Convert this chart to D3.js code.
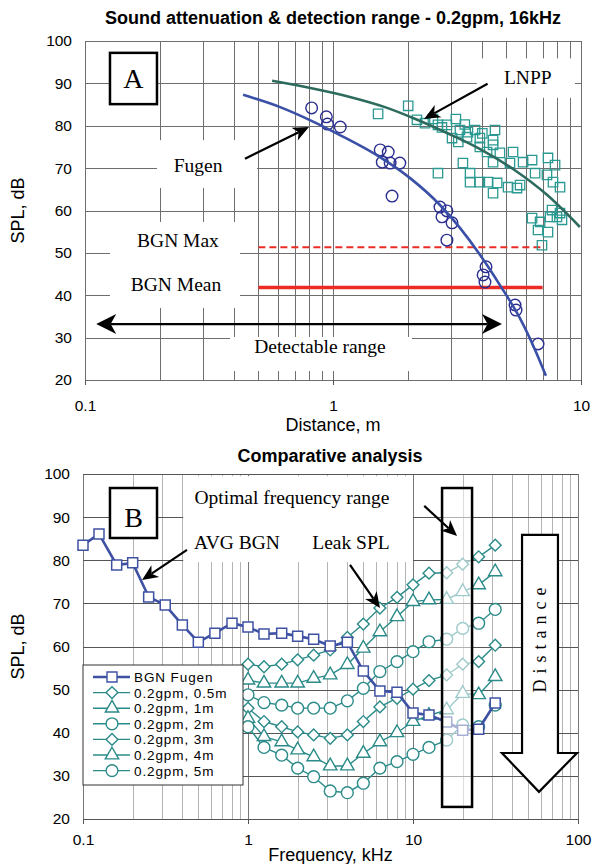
<!DOCTYPE html>
<html>
<head>
<meta charset="utf-8">
<script src="https://cdn.jsdelivr.net/npm/d3@7/dist/d3.min.js"></script>
<style>
  body { margin: 0; background: #fff; }
  svg { display: block; }
</style>
</head>
<body>
<div id="chart"></div>
<script>
// ---------- panel A : sound attenuation vs distance ----------
const fugenDist = [0.82, 0.94, 0.95, 1.07, 1.55, 1.67, 1.58, 1.70, 1.86, 1.73, 2.70,
                   2.88, 2.75, 3.02, 2.88, 4.14, 4.03, 4.10, 5.42, 5.47, 6.71];
const fugenSpl  = [84.2, 82.1, 80.4, 79.7, 74.3, 73.8, 71.4, 71.2, 71.2, 63.4, 60.8,
                   59.9, 58.5, 57.1, 53.0, 46.7, 44.8, 43.1, 37.7, 36.5, 28.5];
const fugenFitDist = [0.434, 0.612, 0.823, 1.067, 1.547, 2.04, 2.70, 3.25, 3.92, 4.71, 5.67, 6.53, 7.22];
const fugenFitSpl  = [87.3, 84.4, 81.1, 77.8, 72.6, 67.7, 61.3, 55.9, 49.5, 42.4, 34.6, 27.1, 21.0];

const lnppDist = [1.52, 2.01, 2.18, 2.35, 2.53, 2.65, 2.88, 3.13, 3.25, 3.50, 3.74, 4.50, 3.02,
                  3.47, 3.91, 4.42, 4.42, 3.91, 4.18, 4.71, 5.32, 5.84, 6.35, 7.36, 7.86, 5.17,
                  4.42, 3.34, 2.65, 3.57, 3.57, 3.91, 4.22, 4.59, 5.08, 5.68, 6.53, 7.29, 7.71,
                  8.23, 4.42, 5.52, 7.64, 8.00, 8.38, 6.35, 6.84, 7.36, 6.71, 6.96, 8.23, 7.50,
                  2.75, 3.40, 4.00, 3.20];
const lnppSpl  = [82.8, 84.7, 81.4, 80.6, 81.6, 80.2, 80.2, 81.6, 79.0, 78.5, 79.0, 79.0, 77.1,
                  77.3, 77.1, 76.6, 75.5, 75.0, 73.8, 73.6, 73.8, 71.4, 71.9, 72.4, 70.7, 71.2,
                  71.4, 71.2, 68.8, 68.8, 66.7, 66.7, 66.7, 66.5, 65.5, 66.0, 68.8, 68.4, 66.7,
                  65.5, 64.1, 65.3, 60.1, 58.5, 57.8, 58.2, 57.3, 54.9, 55.4, 51.8, 59.4, 58.5,
                  79.6, 80.3, 78.2, 76.2];
const lnppFitDist = [0.568, 0.81, 1.17, 1.62, 2.15, 2.88, 3.92, 5.32, 7.29, 9.9];
const lnppFitSpl  = [90.6, 88.9, 86.8, 84.4, 81.6, 78.3, 74.5, 69.8, 63.7, 56.1];

const bgnRange = [0.5, 7];
const bgnMaxLevel = 51.3;
const bgnMeanLevel = 41.8;
const detectRange = [0.111, 4.8];
const detectLevel = 33.2;

// ---------- panel B : spectra ----------
const bands = [0.1, 0.125, 0.16, 0.2, 0.25, 0.315, 0.4, 0.5, 0.63, 0.8, 1, 1.25, 1.6, 2, 2.5,
               3.15, 4, 5, 6.3, 8, 10, 12.5, 16, 20, 25, 31.5];
const bgnFugen = [83.5, 86.1, 78.9, 79.4, 71.5, 69.6, 65.0, 61.0, 63.1, 65.4, 64.5, 62.9, 63.1,
                  62.4, 61.7, 60.1, 61.0, 54.3, 49.7, 49.4, 44.6, 44.1, 42.5, 40.6, 40.8, 46.9];
const leakBands = [1, 1.25, 1.6, 2, 2.5, 3.15, 4, 5, 6.3, 8, 10, 12.5, 16, 20, 25, 31.5];
const leak05m = [55.9, 55.3, 55.9, 56.9, 58.0, 59.2, 62.1, 65.2, 68.9, 71.4, 74.3, 77.0, 77.1, 79.1, 80.8, 83.5];
const leak1m  = [52.2, 51.5, 51.5, 51.5, 52.6, 53.4, 55.8, 59.6, 63.4, 66.9, 70.4, 70.8, 70.9, 72.7, 74.3, 77.3];
const leak2m  = [48.8, 47.0, 46.4, 45.7, 45.7, 45.7, 47.4, 50.3, 54.2, 56.5, 58.8, 61.1, 61.7, 64.2, 65.4, 68.6];
const leak3m  = [45.7, 42.6, 41.4, 40.2, 39.5, 38.7, 39.5, 42.6, 46.0, 48.0, 50.1, 52.1, 53.4, 55.9, 56.5, 60.3];
const leak4m  = [43.3, 39.1, 37.9, 36.0, 34.4, 32.3, 32.3, 35.2, 37.9, 40.0, 42.6, 44.0, 45.3, 49.1, 48.8, 53.0];
const leak5m  = [41.4, 36.6, 34.8, 31.8, 29.8, 26.5, 26.1, 28.3, 31.8, 33.3, 35.0, 36.6, 38.3, 41.8, 41.4, 46.4];
const legendNames = ["BGN Fugen", "0.2gpm, 0.5m", "0.2gpm, 1m", "0.2gpm, 2m", "0.2gpm, 3m", "0.2gpm, 4m", "0.2gpm, 5m"];
const optimalBand = [15, 22.8];

const SANS  = "'Liberation Sans', Arial, sans-serif";
const SERIF = "'Liberation Serif', 'Times New Roman', serif";
const TEAL = "#2b8b89";
const BLUE = "#3f51a3";

const svg = d3.select("#chart").append("svg")
    .attr("width", 601)
    .attr("height", 864);

////////////
/// Util ///
////////////

function logSteps(lo, hi) {
    const v = [];
    for (let d = lo; d < hi * 0.99; d *= 10) {
        for (let k = 1; k < 10; k++) v.push(+(d * k).toPrecision(6));
    }
    v.push(hi);
    return v;
}

function isDecade(d) {
    const l = Math.log10(d);
    return Math.abs(l - Math.round(l)) < 1e-6;
}

function drawGrid(g, x, y, minorCol, majorCol, horizCol) {
    const [x0, x1] = x.range();
    const [y0, y1] = y.range();
    g.selectAll(null).data(logSteps(x.domain()[0], x.domain()[1])).join("line")
        .attr("x1", d => Math.round(x(d)) + 0.5).attr("x2", d => Math.round(x(d)) + 0.5)
        .attr("y1", y1).attr("y2", y0)
        .attr("stroke", d => isDecade(d) ? majorCol : minorCol)
        .attr("stroke-width", 1);
    g.selectAll(null).data(d3.range(20, 101, 10)).join("line")
        .attr("x1", x0).attr("x2", x1)
        .attr("y1", d => Math.round(y(d)) + 0.5).attr("y2", d => Math.round(y(d)) + 0.5)
        .attr("stroke", horizCol)
        .attr("stroke-width", 1);
}

function drawAxes(g, x, y, labelY, title, titleY, yTitleX) {
    const decades = logSteps(x.domain()[0], x.domain()[1]).filter(isDecade);
    const ax = g.append("g")
        .attr("transform", "translate(0," + y.range()[0] + ")")
        .call(d3.axisBottom(x).tickValues(decades).tickFormat(d3.format("~g")).tickSize(5));
    ax.select(".domain").remove();
    ax.selectAll("line").attr("stroke", "#555");
    ax.selectAll("text").attr("y", labelY).attr("dy", 0);
    ax.attr("font-family", SANS).attr("font-size", 15.5);

    const ay = g.append("g")
        .attr("transform", "translate(" + x.range()[0] + ",0)")
        .call(d3.axisLeft(y).tickValues(d3.range(20, 101, 10)).tickSize(0).tickPadding(13));
    ay.select(".domain").remove();
    ay.attr("font-family", SANS).attr("font-size", 15.5);

    const cx = (x.range()[0] + x.range()[1]) / 2;
    g.append("text")
        .attr("x", cx).attr("y", titleY)
        .attr("text-anchor", "middle")
        .attr("font-family", SANS).attr("font-size", 18)
        .text(title);
    const cy = (y.range()[0] + y.range()[1]) / 2;
    g.append("text")
        .attr("transform", "translate(" + yTitleX + "," + cy + ") rotate(-90)")
        .attr("text-anchor", "middle")
        .attr("font-family", SANS).attr("font-size", 18)
        .text("SPL, dB");
}

function whiteBox(g, x, y, d0, d1, v0, v1) {
    g.append("rect")
        .attr("x", x(d0)).attr("y", y(v0))
        .attr("width", x(d1) - x(d0)).attr("height", y(v1) - y(v0))
        .attr("fill", "#fff");
}

function label(g, x, y, d, v, txt, size) {
    g.append("text")
        .attr("x", x(d)).attr("y", y(v))
        .attr("text-anchor", "middle")
        .attr("font-family", SERIF).attr("font-size", size || 19.5)
        .text(txt);
}

function head(g, xs, ys, xt, yt, len, half) {
    const a = Math.atan2(yt - ys, xt - xs);
    const ux = Math.cos(a), uy = Math.sin(a);
    const bx = xt - ux * len, by = yt - uy * len;
    const nx = xt - ux * len * 0.72, ny = yt - uy * len * 0.72;
    g.append("path")
        .attr("d", "M" + xt + "," + yt + "L" + (bx - uy * half) + "," + (by + ux * half) +
                   "L" + nx + "," + ny + "L" + (bx + uy * half) + "," + (by - ux * half) + "Z")
        .attr("fill", "#000");
    return [nx, ny];
}

function arrow(g, x, y, d0, v0, d1, v1, len, half, both) {
    const xs = x(d0), ys = y(v0), xt = x(d1), yt = y(v1);
    const e = head(g, xs, ys, xt, yt, len, half);
    const s = both ? head(g, xt, yt, xs, ys, len, half) : [xs, ys];
    g.append("line")
        .attr("x1", s[0]).attr("y1", s[1]).attr("x2", e[0]).attr("y2", e[1])
        .attr("stroke", "#000").attr("stroke-width", 2.2);
}

function letterBox(g, x, y, d0, d1, v0, v1, letter, baseV) {
    g.append("rect")
        .attr("x", x(d0)).attr("y", y(v0))
        .attr("width", x(d1) - x(d0)).attr("height", y(v1) - y(v0))
        .attr("fill", "#fff").attr("stroke", "#000").attr("stroke-width", 2.5);
    g.append("text")
        .attr("x", (x(d0) + x(d1)) / 2).attr("y", y(baseV))
        .attr("text-anchor", "middle")
        .attr("font-family", SERIF).attr("font-size", 28)
        .text(letter);
}

///////////////
/// Panel A ///
///////////////

const xA = d3.scaleLog().domain([0.1, 10]).range([85, 581]);
const yA = d3.scaleLinear().domain([20, 100]).range([380, 41]);
const gA = svg.append("g");

gA.append("text")
    .attr("x", 333).attr("y", 24)
    .attr("text-anchor", "middle")
    .attr("font-family", SANS).attr("font-size", 18).attr("font-weight", "bold")
    .text("Sound attenuation & detection range - 0.2gpm, 16kHz");

drawGrid(gA, xA, yA, "#6e6e6e", "#6e6e6e", "#6e6e6e");
drawAxes(gA, xA, yA, 31, "Distance, m", 431, 24);

whiteBox(gA, xA, yA, 0.1951, 0.4936, 76.6, 65.3);   // Fugen
whiteBox(gA, xA, yA, 0.1261, 0.4217, 57.3, 37.0);   // BGN labels
whiteBox(gA, xA, yA, 0.3844, 2.082, 30.15, 22.1);   // Detectable range
whiteBox(gA, xA, yA, 3.80, 9.45, 95.9, 86.6);       // LNPP

gA.append("line")
    .attr("x1", xA(bgnRange[0])).attr("x2", xA(bgnRange[1]))
    .attr("y1", yA(bgnMaxLevel)).attr("y2", yA(bgnMaxLevel))
    .attr("stroke", "#ec2b25").attr("stroke-width", 2).attr("stroke-dasharray", "7,4");
gA.append("line")
    .attr("x1", xA(bgnRange[0])).attr("x2", xA(bgnRange[1]))
    .attr("y1", yA(bgnMeanLevel)).attr("y2", yA(bgnMeanLevel))
    .attr("stroke", "#ec2b25").attr("stroke-width", 3.5);

const fitLine = d3.line().curve(d3.curveMonotoneX)
    .x(d => xA(d[0])).y(d => yA(d[1]));

gA.selectAll(null).data(lnppDist.map((d, i) => [d, lnppSpl[i]])).join("path")
    .attr("d", d3.symbol().type(d3.symbolSquare).size(88))
    .attr("transform", d => "translate(" + xA(d[0]) + "," + yA(d[1]) + ")")
    .attr("fill", "none").attr("stroke", "#2a9a92").attr("stroke-width", 1.3);

gA.append("path")
    .datum(lnppFitDist.map((d, i) => [d, lnppFitSpl[i]]))
    .attr("d", fitLine)
    .attr("fill", "none").attr("stroke", "#2e6b5f").attr("stroke-width", 2.6);

gA.selectAll(null).data(fugenDist.map((d, i) => [d, fugenSpl[i]])).join("circle")
    .attr("cx", d => xA(d[0])).attr("cy", d => yA(d[1])).attr("r", 5.8)
    .attr("fill", "none").attr("stroke", "#2b2e8f").attr("stroke-width", 1.4);

gA.append("path")
    .datum(fugenFitDist.map((d, i) => [d, fugenFitSpl[i]]))
    .attr("d", fitLine)
    .attr("fill", "none").attr("stroke", "#3a4fa6").attr("stroke-width", 2.6);

arrow(gA, xA, yA, detectRange[0], detectLevel, detectRange[1], detectLevel, 20, 10, true);
arrow(gA, xA, yA, 4.20, 89.9, 2.33, 81.6, 16, 7, false);
arrow(gA, xA, yA, 0.4418, 72.2, 0.80, 79.7, 16, 7, false);

label(gA, xA, yA, 0.2856, 69.1, "Fugen");
label(gA, xA, yA, 0.2371, 51.4, "BGN Max");
label(gA, xA, yA, 0.2328, 40.9, "BGN Mean");
label(gA, xA, yA, 0.8862, 26.4, "Detectable range");
label(gA, xA, yA, 6.10, 89.9, "LNPP");

letterBox(gA, xA, yA, 0.1261, 0.1951, 97.2, 85.1, "A", 88.8);

///////////////
/// Panel B ///
///////////////

const xB = d3.scaleLog().domain([0.1, 100]).range([83, 578]);
const yB = d3.scaleLinear().domain([20, 100]).range([819, 474]);
const gB = svg.append("g");

gB.append("text")
    .attr("x", 330).attr("y", 462)
    .attr("text-anchor", "middle")
    .attr("font-family", SANS).attr("font-size", 18).attr("font-weight", "bold")
    .text("Comparative analysis");

drawGrid(gB, xB, yB, "#b4b4b4", "#777", "#555");
drawAxes(gB, xB, yB, 26, "Frequency, kHz", 861, 24);

whiteBox(gB, xB, yB, 0.405, 10, 99.5, 79.6);

const markerTypes = {
    diamond:  {type: d3.symbolSquare,   size: 70, rot: 45},
    triangle: {type: d3.symbolTriangle, size: 78, rot: 0},
    circle:   {type: d3.symbolCircle,   size: 110, rot: 0},
    square:   {type: d3.symbolSquare,   size: 100, rot: 0}
};

const leakSeries = [
    {values: leak05m, shape: "diamond"},
    {values: leak1m,  shape: "triangle"},
    {values: leak2m,  shape: "circle"},
    {values: leak3m,  shape: "diamond"},
    {values: leak4m,  shape: "triangle"},
    {values: leak5m,  shape: "circle"}
];

function drawMarkers(g, pts, shape, color, sw) {
    const m = markerTypes[shape];
    g.selectAll(null).data(pts).join("path")
        .attr("d", d3.symbol().type(m.type).size(m.size))
        .attr("transform", d => "translate(" + xB(d[0]) + "," + yB(d[1]) + ") rotate(" + m.rot + ")")
        .attr("fill", "#fff").attr("stroke", color).attr("stroke-width", sw);
}

const specLine = d3.line().x(d => xB(d[0])).y(d => yB(d[1]));

leakSeries.forEach(s => {
    const pts = leakBands.map((f, i) => [f, s.values[i]]);
    gB.append("path").datum(pts).attr("d", specLine)
        .attr("fill", "none").attr("stroke", TEAL).attr("stroke-width", 1.4);
    drawMarkers(gB, pts, s.shape, TEAL, 1.4);
});

const bgnPts = bands.map((f, i) => [f, bgnFugen[i]]);
gB.append("path").datum(bgnPts).attr("d", specLine)
    .attr("fill", "none").attr("stroke", BLUE).attr("stroke-width", 2.6);
drawMarkers(gB, bgnPts, "square", BLUE, 1.5);

// optimal frequency range box (semi transparent)
gB.append("rect")
    .attr("x", xB(optimalBand[0])).attr("y", yB(96.75))
    .attr("width", xB(optimalBand[1]) - xB(optimalBand[0])).attr("height", yB(22.8) - yB(96.75))
    .attr("fill", "#fff").attr("fill-opacity", 0.55)
    .attr("stroke", "#000").attr("stroke-width", 2.5);

// distance arrow
const dPts = [[45.8, 85.9], [75.6, 85.9], [75.6, 35.3], [98.6, 35.3], [58.0, 26.3],
              [34.6, 35.3], [45.8, 35.3]];
gB.append("path")
    .attr("d", "M" + dPts.map(p => xB(p[0]) + "," + yB(p[1])).join("L") + "Z")
    .attr("fill", "#fff").attr("stroke", "#000").attr("stroke-width", 2.2);
gB.append("text")
    .attr("transform", "translate(" + (xB(58.9) + 6) + "," + (yB(61.5) - 3) + ") rotate(-90)")
    .attr("text-anchor", "middle")
    .attr("font-family", SERIF).attr("font-size", 18).attr("letter-spacing", 6)
    .text("Distance");

label(gB, xB, yB, 1.848, 93.05, "Optimal frequency range");
label(gB, xB, yB, 0.8577, 82.6, "AVG BGN");
label(gB, xB, yB, 4.21, 82.6, "Leak SPL");

arrow(gB, xB, yB, 11.7, 92.6, 18.5, 85.6, 16, 7, false);
arrow(gB, xB, yB, 0.4268, 82.4, 0.2279, 75.4, 16, 7, false);
arrow(gB, xB, yB, 4.151, 78.9, 6.31, 68.9, 16, 7, false);

letterBox(gB, xB, yB, 0.1457, 0.2809, 96.75, 85.16, "B", 87.8);

//////////////
/// Legend ///
//////////////

const leg = gB.append("g").attr("transform", "translate(83,665)");
leg.append("rect").attr("width", 160).attr("height", 120)
    .attr("fill", "#fff").attr("stroke", "#333").attr("stroke-width", 1);
const legShapes = ["square", "diamond", "triangle", "circle", "diamond", "triangle", "circle"];
legendNames.forEach((name, i) => {
    const row = leg.append("g").attr("transform", "translate(0," + (12 + i * 15.6) + ")");
    const col = i === 0 ? BLUE : TEAL;
    row.append("line").attr("x1", 10).attr("x2", 47).attr("stroke", col)
        .attr("stroke-width", i === 0 ? 2.6 : 1.4);
    const m = markerTypes[legShapes[i]];
    row.append("path")
        .attr("d", d3.symbol().type(m.type).size(m.size)())
        .attr("transform", "translate(29,0) rotate(" + m.rot + ")")
        .attr("fill", "#fff").attr("stroke", col).attr("stroke-width", 1.4);
    row.append("text").attr("x", 51).attr("y", 5)
        .attr("font-family", SANS).attr("font-size", 13.5).attr("letter-spacing", 0.9)
        .text(name);
});
</script>
</body>
</html>
